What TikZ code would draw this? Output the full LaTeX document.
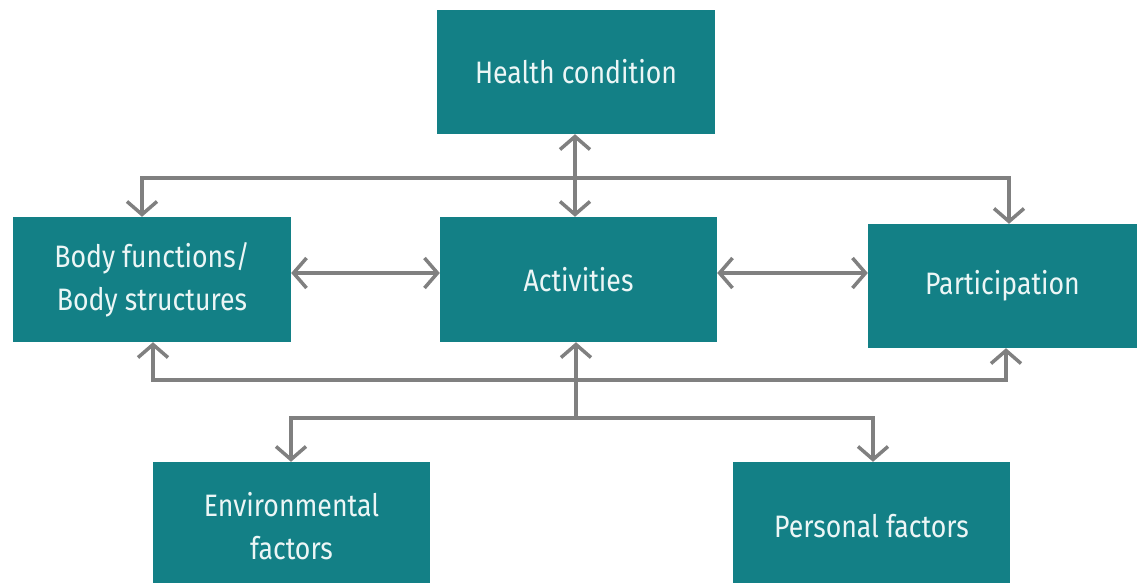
\documentclass[tikz,border=0pt]{standalone}
\usepackage{fontspec}
\setmainfont[FakeStretch=0.86]{Fira Sans}
\usetikzlibrary{arrows.meta}
\definecolor{teal0}{RGB}{19,128,134}
\definecolor{gray0}{RGB}{128,128,128}
\definecolor{txt}{RGB}{236,246,246}
\begin{document}
\begin{tikzpicture}[x=1pt,y=-1pt,
  box/.style={fill=teal0, text=txt, inner sep=0pt, align=center,
    font=\fontsize{31}{43}\selectfont},
  link/.style={draw=gray0, line width=3.5pt},
  tip/.style={-{Straight Barb[length=13pt,width=30pt,line width=3.5pt]}},
  both/.style={{Straight Barb[length=13pt,width=30pt,line width=3.5pt]}-{Straight Barb[length=13pt,width=30pt,line width=3.5pt]}}]
\useasboundingbox (0,0) rectangle (1137,582);
\node[box, minimum width=278pt, minimum height=124pt] (health) at (576,72) {Health condition};
\node[box, minimum width=278pt, minimum height=125pt] (body) at (152,279.5) {Body functions/\\Body structures};
\node[box, minimum width=277pt, minimum height=125pt] (act) at (578.5,279.5) {Activities};
\node[box, minimum width=269pt, minimum height=124pt] (part) at (1002.5,286) {Participation};
\node[box, minimum width=277pt, minimum height=128pt] (env) at (291.5,526) {Environmental\\factors};
\node[box, minimum width=277pt, minimum height=128pt] (pers) at (871.5,526) {Personal factors};
% coordinates
\coordinate (t1) at (142,178);
\coordinate (t2) at (1009,178);
\coordinate (b1) at (153,380);
\coordinate (b2) at (1006,380);
\coordinate (m1) at (576,418);
\coordinate (e1) at (291,418);
\coordinate (p1) at (873,418);
% connectors
\draw[link,both] (health.south -| 575,0) -- (act.north -| 575,0);
\draw[link,tip] (t2) -- (t1) -- (t1 |- body.north);
\draw[link,tip] (t1) -- (t2) -- (t2 |- part.north);
\draw[link,both] (body.east |- 0,273) -- (act.west |- 0,273);
\draw[link,both] (act.east |- 0,273) -- (part.west |- 0,273);
\draw[link,tip] (b2) -- (b1) -- (b1 |- body.south);
\draw[link,tip] (b1) -- (b2) -- (b2 |- part.south);
\draw[link,tip] (m1) -- (m1 |- act.south);
\draw[link,tip] (p1) -- (e1) -- (e1 |- env.north);
\draw[link,tip] (e1) -- (p1) -- (p1 |- pers.north);
\end{tikzpicture}
\end{document}
